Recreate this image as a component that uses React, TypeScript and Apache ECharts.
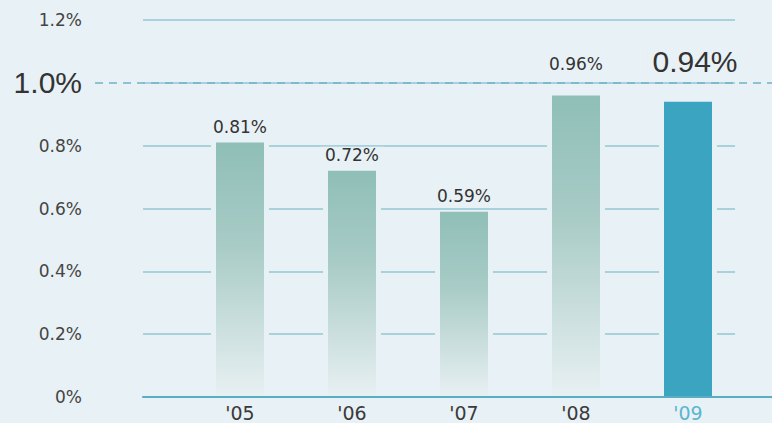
import React, { useEffect, useRef } from "react";
import * as echarts from "echarts";

const categories = ["'05", "'06", "'07", "'08", "'09"];
const values = [0.81, 0.72, 0.59, 0.96, 0.94];
const highlightIndex = 4;
const labelDistances = [7, 7, 7, 23, 25];

const BG = "#e8f1f5";
const GRID_LINE = "#93c6d3";
const WIDE = "DejaVu Sans, Verdana, sans-serif";
const BIG = "Liberation Sans, Arial, sans-serif";

export default function App() {
  const ref = useRef<HTMLDivElement>(null);
  useEffect(() => {
    document.body.style.margin = "0";
    if (!ref.current) return;
    const chart = echarts.init(ref.current, undefined, { renderer: "svg" });
    const fade = new echarts.graphic.LinearGradient(0, 0, 0, 1, [
      { offset: 0, color: "#8fbfb7" },
      { offset: 0.4, color: "#a8cbc6" },
      { offset: 1, color: "#e8f0f2" },
    ]);
    const top = 20;
    const bottom = 26;
    const yBase = { type: "value", min: 0, max: 1.2, interval: 0.2 };
    chart.setOption({
      animation: false,
      backgroundColor: BG,
      textStyle: { fontFamily: WIDE },
      grid: [
        { left: 143, right: 37, top, bottom },
        { left: 184, right: 28, top, bottom },
        { left: 184, right: 28, top, bottom },
        { left: 143, right: 0, top, bottom },
        { left: 95, right: 0, top, bottom },
      ],
      xAxis: [
        { gridIndex: 0, type: "value", show: false, min: 0, max: 1 },
        {
          gridIndex: 1,
          type: "category",
          data: categories.map((c, i) =>
            i === highlightIndex ? { value: c, textStyle: { color: "#5ab6cf" } } : c
          ),
          axisLine: { show: false },
          axisTick: { show: false },
          axisLabel: { color: "#3a3a3a", fontSize: 19, margin: 6, fontFamily: WIDE },
        },
        { gridIndex: 2, type: "category", data: categories, show: false },
        {
          gridIndex: 3,
          type: "value",
          min: 0,
          max: 1,
          z: 10,
          axisLine: { show: true, lineStyle: { color: "#5aaec4", width: 2 } },
          axisTick: { show: false },
          axisLabel: { show: false },
          splitLine: { show: false },
        },
        { gridIndex: 4, type: "value", show: false, min: 0, max: 1 },
      ],
      yAxis: [
        {
          ...yBase,
          gridIndex: 0,
          axisLine: { show: false },
          axisTick: { show: false },
          splitLine: { show: true, lineStyle: { color: GRID_LINE, width: 1.5 } },
          axisLabel: {
            margin: 61,
            color: "#444",
            fontSize: 17,
            fontFamily: WIDE,
            formatter: (v: number) => {
              if (Math.abs(v - 1) < 1e-6) return "{big|1.0%}";
              if (v === 0) return "0%";
              return v.toFixed(1) + "%";
            },
            rich: { big: { fontSize: 30, color: "#333", fontFamily: BIG } },
          },
        },
        { ...yBase, gridIndex: 1, show: false },
        { ...yBase, gridIndex: 2, show: false },
        { ...yBase, gridIndex: 3, show: false },
        { ...yBase, gridIndex: 4, show: false },
      ],
      series: [
        {
          type: "bar",
          xAxisIndex: 2,
          yAxisIndex: 2,
          data: values,
          barWidth: 58,
          itemStyle: { color: BG },
          silent: true,
          z: 1,
        },
        {
          type: "bar",
          xAxisIndex: 1,
          yAxisIndex: 1,
          barWidth: 48,
          z: 3,
          data: values.map((v, i) => ({
            value: v,
            itemStyle: { color: i === highlightIndex ? "#3ba5c1" : fade },
            label: {
              distance: labelDistances[i],
              fontSize: i === highlightIndex ? 30 : 17,
              fontFamily: i === highlightIndex ? BIG : WIDE,
              offset: i === highlightIndex ? [7, 0] : [0, 0],
            },
          })),
          label: {
            show: true,
            position: "top",
            color: "#333",
            backgroundColor: BG,
            padding: [0, 5],
            formatter: (p: any) => p.value.toFixed(2) + "%",
          },
        },
        {
          type: "line",
          xAxisIndex: 4,
          yAxisIndex: 4,
          data: [],
          z: 2,
          markLine: {
            silent: true,
            symbol: "none",
            label: { show: false },
            lineStyle: { color: "#6fb3c3", type: [8, 6], width: 1.5 },
            data: [{ yAxis: 1 }],
          },
        },
      ],
    });
    return () => chart.dispose();
  }, []);
  return <div ref={ref} style={{ width: 772, height: 423 }} />;
}
